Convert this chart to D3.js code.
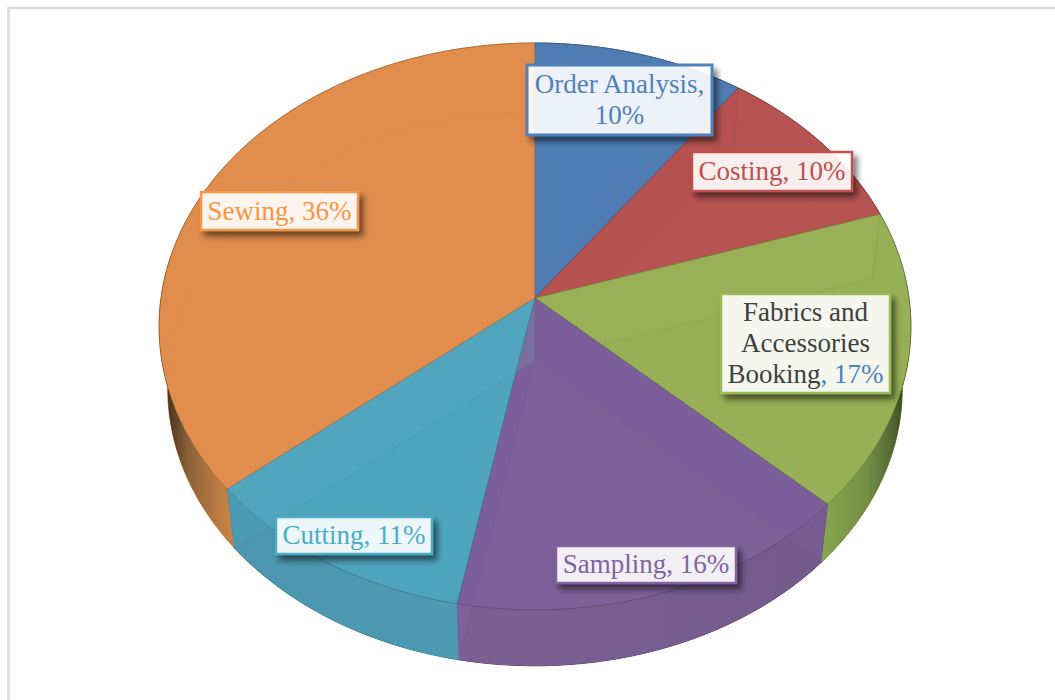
<!DOCTYPE html>
<html>
<head>
<meta charset="utf-8">
<script src="https://cdn.jsdelivr.net/npm/d3@7/dist/d3.min.js"></script>
<style>
html,body{margin:0;padding:0;background:#fff;overflow:hidden;}
svg{display:block;}
text{font-family:"Liberation Serif",serif;}
</style>
</head>
<body>
<svg id="chart" width="1055" height="700"></svg>
<script>
const categories = ["Order Analysis","Costing","Fabrics and Accessories Booking","Sampling","Cutting","Sewing"];
const values = [10,10,17,16,11,36];
const percentLabels = ["10%","10%","17%","16%","11%","36%"];
const sliceColors = ["#4F81BD","#C0504D","#9BBB59","#8064A2","#4BACC6","#F79646"];
const topColors = ["#4e7db2","#b75452","#98b056","#7e6299","#4ea3bd","#e08d4e"];
const faceColors = ["#4e7db2","#ae4946","#9bb059","#7050a0","#62adc4","#e08d4e"];

// label layout: box [x0,y0,x1,y1], lines of text
const labelBoxes = [[527,65,712,135],[692,152,852,191],[721,294,890,393],[556,546,736,583],[276,517,432,554],[201,192,358,230]];
const labelLines = [["Order Analysis,","10%"],["Costing, 10%"],["Fabrics and","Accessories","Booking"],["Sampling, 16%"],["Cutting, 11%"],["Sewing, 36%"]];

const svg = d3.select("#chart");
const defs = svg.append("defs");
const f = defs.append("filter").attr("id","sh").attr("x","-20%").attr("y","-50%").attr("width","140%").attr("height","200%");
f.append("feGaussianBlur").attr("in","SourceAlpha").attr("stdDeviation",3.4).attr("result","b");
f.append("feOffset").attr("in","b").attr("dx",4).attr("dy",5).attr("result","o");
f.append("feComponentTransfer").attr("in","o").attr("result","a").append("feFuncA").attr("type","linear").attr("slope",0.55);
f.append("feComposite").attr("in","a").attr("in2","SourceAlpha").attr("operator","out");

// frame
svg.append("path").attr("d","M8.5,700V8H1055").attr("fill","none").attr("stroke","#dcdcdc").attr("stroke-width",2.5);

// perspective projection of the pie disc
const apex = {x:535,y:298}, R = 374, B = 280.6, K = 0.1005;
const depthScale = 0.977, depthDy = 63;
function proj(theta, r, level){
  const X = r*Math.sin(theta), Y = -r*Math.cos(theta), w = 1 - K*Y;
  const px = R*X/w, py = B*Y/w;
  return level===0 ? [apex.x+px, apex.y+py] : [apex.x+depthScale*px, apex.y+depthDy+depthScale*py];
}
const pie = d3.pie().sort(null).value(d=>d).startAngle(0).endAngle(2*Math.PI);
const arcs = pie(values);
const line = d3.line();
const samples = (a0,a1)=>{
  const n = Math.max(4,Math.ceil((a1-a0)/0.02));
  return d3.range(n+1).map(i=>a0+(a1-a0)*i/n);
};
const sector = (d,lv)=> line([proj(0,0,lv),...samples(d.startAngle,d.endAngle).map(t=>proj(t,1,lv))])+"Z";
const wall = d=>{
  const s = samples(d.startAngle,d.endAngle);
  return line([...s.map(t=>proj(t,1,0)),...s.slice().reverse().map(t=>proj(t,1,1))])+"Z";
};
const radial = t=> line([proj(0,0,0),proj(t,1,0),proj(t,1,1),proj(0,0,1)])+"Z";
// the cut face seen at a boundary belongs to the slice on the viewer's side of it
const radialFaces = arcs.map((d,i)=>({
  angle:d.startAngle,
  idx: d.startAngle < Math.PI ? i : (i+arcs.length-1)%arcs.length
}));

// wall gradients (dark towards the silhouette edge)
const wallStops = [
 [[0,"#4a77a8"],[1,"#4a77a8"]],
 [[0,"#ad4e4b"],[1,"#ad4e4b"]],
 [[0,"#88a650"],[0.55,"#728f44"],[0.85,"#526833"],[1,"#36441f"]],
 [[0,"#7c6094"],[1,"#745a8d"]],
 [[0,"#4b96ae"],[1,"#4f9ab3"]],
 [[0,"#4a3420"],[0.3,"#8c6239"],[0.75,"#bb7c42"],[1,"#cd8444"]]
];
const wallRange = [[535,740],[740,880],[822,905],[458,825],[232,458],[168,236]];
const wallLineDarken = [1.2,1.2,0.8,1.2,1.2,0.35];
wallStops.forEach((st,i)=>{
  const g = defs.append("linearGradient").attr("id","w"+i).attr("gradientUnits","userSpaceOnUse")
    .attr("x1",wallRange[i][0]).attr("x2",wallRange[i][1]).attr("y1",0).attr("y2",0);
  st.forEach(s=>g.append("stop").attr("offset",s[0]).attr("stop-color",s[1]));
});
// clip: everything outside the top disc
const discPath = line(samples(0,2*Math.PI).map(t=>proj(t,1,0)))+"Z";
defs.append("clipPath").attr("id","outside").append("path")
  .attr("d","M0,0H1055V700H0Z"+discPath).attr("clip-rule","evenodd");

const pieG = svg.append("g");
// floor of the pie
pieG.selectAll("path.floor").data(arcs).join("path").attr("class","floor")
  .attr("d",d=>sector(d,1)).attr("fill",(d,i)=>topColors[i]);
// outer walls seen through the top
pieG.selectAll("path.wallflat").data(arcs).join("path").attr("class","wallflat")
  .attr("d",wall).attr("fill",(d,i)=>topColors[i]).attr("stroke",(d,i)=>d3.color(topColors[i]).darker(wallLineDarken[i])).attr("stroke-width",1);
// radial cut faces
pieG.selectAll("path.radial").data(radialFaces).join("path").attr("class","radial")
  .attr("d",d=>radial(d.angle)).attr("fill",d=>faceColors[d.idx])
  .attr("stroke",d=>d3.color(topColors[d.idx]).darker(1)).attr("stroke-width",1);
// translucent top
pieG.selectAll("path.top").data(arcs).join("path").attr("class","top")
  .attr("d",d=>sector(d,0)).attr("fill",(d,i)=>topColors[i]).attr("fill-opacity",0.82);
pieG.selectAll("path.topline").data(arcs).join("path").attr("class","topline")
  .attr("d",d=>sector(d,0)).attr("fill","none")
  .attr("stroke",(d,i)=>d3.color(sliceColors[i]).darker(0.7)).attr("stroke-width",0.8).attr("stroke-opacity",0.6);
// shaded walls, only outside the top disc
const outerG = pieG.append("g").attr("clip-path","url(#outside)");
outerG.selectAll("path.wall").data(arcs).join("path").attr("class","wall")
  .attr("d",wall).attr("fill",(d,i)=>`url(#w${i})`);
outerG.selectAll("path.radial2").data(radialFaces).join("path").attr("class","radial2")
  .attr("d",d=>radial(d.angle)).attr("fill",d=>sliceColors[d.idx]).attr("fill-opacity",0.25)
  .attr("stroke",d=>d3.color(topColors[d.idx]).darker(0.5)).attr("stroke-width",0.6).attr("stroke-opacity",0.5);
// rim line over the walls
pieG.append("path").attr("d",discPath).attr("fill","none").attr("stroke","#3a3a3a").attr("stroke-width",0.7).attr("stroke-opacity",0.22);

// labels
const fontSize = 27, lineH = 31;
arcs.forEach((d,i)=>{
  const b = labelBoxes[i], col = sliceColors[i];
  const lines = labelLines[i];
  const g = svg.append("g").attr("class","label");
  const rect = ()=>g.append("rect").attr("x",b[0]).attr("y",b[1]).attr("width",b[2]-b[0]).attr("height",b[3]-b[1]);
  rect().attr("fill","#000").attr("stroke","#000").attr("stroke-width",2.5).attr("filter","url(#sh)");
  rect().attr("fill","#fff").attr("fill-opacity",0.9).attr("stroke",col).attr("stroke-width",i===0?3:2.5);
  const cx = (b[0]+b[2])/2, cy = (b[1]+b[3])/2;
  lines.forEach((t,j)=>{
    const y = cy + (j-(lines.length-1)/2)*lineH + fontSize*0.33;
    const txt = g.append("text").attr("x",cx).attr("y",y).attr("text-anchor","middle").attr("font-size",fontSize)
      .attr("fill", i===2 ? "#404040" : col);
    if(i===2 && j===2){
      txt.append("tspan").text(t);
      txt.append("tspan").attr("fill","#4F81BD").text(", "+percentLabels[i]);
    } else txt.text(t);
  });
});
</script>
</body>
</html>
